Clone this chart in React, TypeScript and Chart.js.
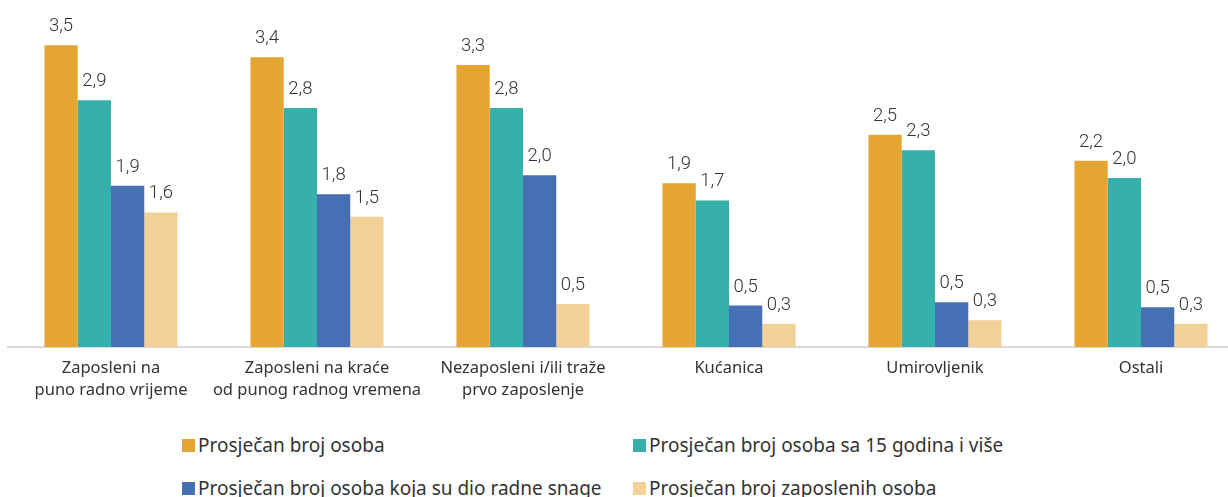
import React, { useEffect, useRef } from "react";
import { Chart, registerables } from "chart.js";

Chart.register(...registerables);

const categories: (string | string[])[] = [
  ["Zaposleni na", "puno radno vrijeme"],
  ["Zaposleni na kraće", "od punog radnog vremena"],
  ["Nezaposleni i/ili traže", "prvo zaposlenje"],
  "Kućanica",
  "Umirovljenik",
  "Ostali",
];

const seriesNames = [
  "Prosječan broj osoba",
  "Prosječan broj osoba sa 15 godina i više",
  "Prosječan broj osoba koja su dio radne snage",
  "Prosječan broj zaposlenih osoba",
];

const prosjecanBrojOsoba = [3.5, 3.36, 3.27, 1.9, 2.46, 2.16];
const osoba15Plus = [2.86, 2.77, 2.77, 1.7, 2.28, 1.96];
const radnaSnaga = [1.87, 1.77, 1.99, 0.48, 0.52, 0.46];
const zaposleneOsobe = [1.56, 1.51, 0.5, 0.27, 0.31, 0.27];

const colors = ["#E5A532", "#35B0AA", "#476FB4", "#F2D198"];

const fmt = (v: number) => v.toFixed(1).replace(".", ",");

const valueLabels = {
  id: "valueLabels",
  afterDatasetsDraw(chart: any) {
    const ctx = chart.ctx;
    ctx.save();
    ctx.font = "300 18.5px Roboto";
    ctx.fillStyle = "#333333";
    ctx.textAlign = "center";
    ctx.textBaseline = "alphabetic";
    chart.data.datasets.forEach((ds: any, i: number) => {
      const meta = chart.getDatasetMeta(i);
      meta.data.forEach((el: any, j: number) => {
        ctx.fillText(fmt(ds.data[j]), el.x, el.y - 14);
      });
    });
    ctx.restore();
  },
};

export default function App() {
  const ref = useRef<HTMLCanvasElement>(null);
  useEffect(() => {
    if (!ref.current) return;
    const data = [prosjecanBrojOsoba, osoba15Plus, radnaSnaga, zaposleneOsobe];
    const chart = new Chart(ref.current, {
      type: "bar",
      data: {
        labels: categories,
        datasets: data.map((d, i) => ({
          label: seriesNames[i],
          data: d,
          backgroundColor: colors[i],
          borderWidth: 0,
          categoryPercentage: 0.646,
          barPercentage: 1,
        })),
      },
      options: {
        animation: false,
        responsive: false,
        layout: { padding: { left: 8, right: 0, top: 2, bottom: 13 } },
        plugins: { legend: { display: false }, tooltip: { enabled: false } },
        scales: {
          x: {
            grid: { display: false, drawTicks: false },
            border: { display: true, color: "#d9d9d9", width: 2 },
            ticks: {
              color: "#333333",
              padding: 10,
              maxRotation: 0,
              autoSkip: false,
              font: { family: "Noto Sans", size: 16.5, lineHeight: 1.33 },
            },
            afterFit: (s: any) => {
              s.height = 60;
            },
          },
          y: { display: false, min: 0, max: 4 },
        },
      },
      plugins: [valueLabels],
    });
    return () => chart.destroy();
  }, []);

  const legendItem = (i: number, left: number, top: number) => (
    <div
      key={i}
      style={{
        position: "absolute",
        left,
        top,
        height: 22,
        display: "flex",
        alignItems: "center",
        whiteSpace: "nowrap",
        fontFamily: "Noto Sans",
        fontSize: 19,
        color: "#333333",
      }}
    >
      <span style={{ display: "inline-block", width: 13, height: 13, background: colors[i], marginRight: 3 }} />
      <span>{seriesNames[i]}</span>
    </div>
  );

  return (
    <div
      style={{
        position: "fixed",
        left: 0,
        top: 0,
        width: 1228,
        height: 497,
        overflow: "hidden",
        background: "#fff",
      }}
    >
      <canvas ref={ref} width={1244} height={420} style={{ position: "absolute", left: 0, top: 0 }} />
      {legendItem(0, 182, 434)}
      {legendItem(1, 633, 434)}
      {legendItem(2, 182, 477)}
      {legendItem(3, 633, 477)}
    </div>
  );
}
